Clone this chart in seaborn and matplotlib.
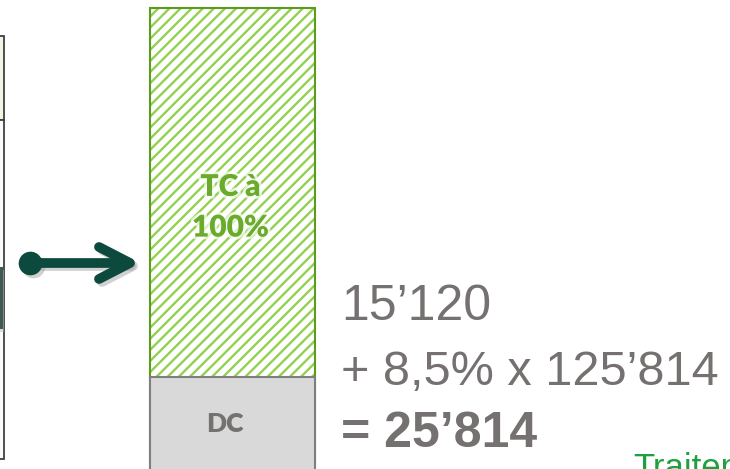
import matplotlib
matplotlib.use("Agg")
import matplotlib.pyplot as plt
import matplotlib.patheffects as pe
from matplotlib.patches import Rectangle
import seaborn as sns
import pandas as pd

# --- data -------------------------------------------------------------
categories = ["Cotisation"]
dc_height = [110]          # grey base segment (DC)
tc_height = [369]          # hatched segment stacked on top (TC à 100%)
segment_labels = ["DC", "TC à\n100%"]
formula_lines = ["15\u2019120", "+ 8,5% x 125\u2019814", "= 25\u2019814"]
footer_text = "Traitement"

GREEN_HATCH = "#92d050"
GREEN_EDGE = "#5b9b1e"
GREEN_TEXT = "#6aab2c"
GREY_FILL = "#d9d9d9"
GREY_EDGE = "#7f7f7f"
GREY_TEXT = "#767171"
DARK_GREEN = "#0b4a3c"

sns.set_style("white")
plt.rcParams["hatch.linewidth"] = 1.7

fig = plt.figure(figsize=(7.3, 4.69), dpi=100)
ax = fig.add_axes([0, 0, 1, 1])

df = pd.DataFrame({
    "cat": categories,
    "dc": dc_height,
    "total": [d + t for d, t in zip(dc_height, tc_height)],
})

# hatched top segment (drawn as full stack, DC covers the bottom)
sns.barplot(data=df, x="cat", y="total", color="white", edgecolor=GREEN_HATCH,
            hatch="///", linewidth=0, width=0.8, saturation=1, ax=ax)
sns.barplot(data=df, x="cat", y="total", color=GREEN_EDGE, fill=False,
            linewidth=1.5, width=0.8, saturation=1, ax=ax)
sns.barplot(data=df, x="cat", y="dc", color=GREY_FILL, edgecolor=GREY_EDGE,
            linewidth=1.5, width=0.8, saturation=1, ax=ax)

# place the bar: 0.8 category units = 165 px, centre at x=232 px
unit = 165 / 0.8
left = -232.5 / unit
ax.set_xlim(left, left + 730 / unit)
ax.set_ylim(18, 487)
ax.axis("off")

# segment labels inside the bar
ax.text(-0.035, dc_height[0] / 2 + 8, segment_labels[0], ha="center", va="center",
        fontsize=19, fontweight="heavy", color=GREY_TEXT, family="Lato")
ax.text(-0.01, dc_height[0] + tc_height[0] * 0.46, segment_labels[1], ha="center",
        va="center", fontsize=21.5, fontweight="heavy", color=GREEN_TEXT, family="Lato",
        linespacing=1.55,
        path_effects=[pe.withStroke(linewidth=4, foreground="white", alpha=0.7)])

# --- overlay in pixel coordinates for the decorations ------------------
ov = fig.add_axes([0, 0, 1, 1], facecolor="none")
ov.set_xlim(0, 730)
ov.set_ylim(469, 0)
ov.axis("off")

# partial box on the left edge
ov.add_patch(Rectangle((-5, 36), 8.5, 84, facecolor="#f1f6e4", edgecolor="#404040", lw=1.3))
ov.add_patch(Rectangle((-5, 120), 8.5, 339, facecolor="#fafafa", edgecolor="#404040", lw=1.3))
ov.add_patch(Rectangle((-5, 270), 8.5, 62, facecolor="#bbbbbb", edgecolor="none", alpha=0.5))
ov.add_patch(Rectangle((-5, 267), 8, 62, facecolor="#3d5a55", edgecolor="none"))

# arrow with shadow
for dx, col, a in [(3, "#9a9a9a", 0.45), (0, DARK_GREEN, 1.0)]:
    ov.plot([30 + dx, 128 + dx], [263 + dx, 263 + dx], color=col, alpha=a, lw=7,
            solid_capstyle="round")
    ov.plot([99 + dx, 130 + dx, 99 + dx], [247 + dx, 263 + dx, 279 + dx], color=col,
            alpha=a, lw=7, solid_capstyle="round", solid_joinstyle="round")
    ov.plot([30 + dx], [263 + dx], "o", ms=17, color=col, alpha=a, mec="none")

# formula on the right
ov.text(341, 320, formula_lines[0], fontsize=36, color=GREY_TEXT,
        family="Liberation Sans", va="baseline")
ov.text(341, 385, formula_lines[1], fontsize=35, color=GREY_TEXT,
        family="Liberation Sans", va="baseline")
ov.text(341, 447, formula_lines[2], fontsize=36, color=GREY_TEXT, fontweight="bold",
        family="Liberation Sans", va="baseline")

ov.text(633, 478, footer_text, fontsize=25, color="#1fa040",
        family="Liberation Sans", va="baseline")

fig.savefig("out.png", dpi=100)
